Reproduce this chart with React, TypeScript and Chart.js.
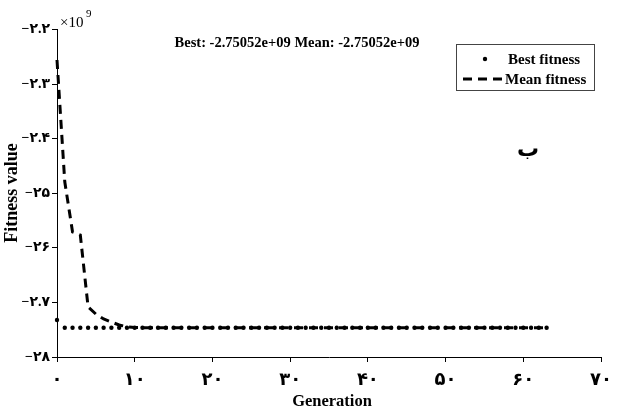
import React, { useEffect, useRef } from "react";
import { Chart, registerables } from "chart.js";

Chart.register(...registerables);

const generations = [
  0, 1, 2, 3, 4, 5, 6, 7, 8, 9, 10, 11, 12, 13, 14, 15, 16, 17, 18, 19, 20, 21, 22, 23, 24, 25, 26, 27, 28, 29, 30, 31,
  32, 33, 34, 35, 36, 37, 38, 39, 40, 41, 42, 43, 44, 45, 46, 47, 48, 49, 50, 51, 52, 53, 54, 55, 56, 57, 58, 59, 60,
  61, 62, 63,
];

const bestFitness = [
  -2.7323, -2.7463, -2.7463, -2.7463, -2.7463, -2.7463, -2.7463, -2.7463, -2.7463, -2.7463, -2.7463, -2.7463, -2.7463,
  -2.7463, -2.7463, -2.7463, -2.7463, -2.7463, -2.7463, -2.7463, -2.7463, -2.7463, -2.7463, -2.7463, -2.7463, -2.7463,
  -2.7463, -2.7463, -2.7463, -2.7463, -2.7463, -2.7463, -2.7463, -2.7463, -2.7463, -2.7463, -2.7463, -2.7463, -2.7463,
  -2.7463, -2.7463, -2.7463, -2.7463, -2.7463, -2.7463, -2.7463, -2.7463, -2.7463, -2.7463, -2.7463, -2.7463, -2.7463,
  -2.7463, -2.7463, -2.7463, -2.7463, -2.7463, -2.7463, -2.7463, -2.7463, -2.7463, -2.7463, -2.7463, -2.7463,
];

const meanFitness = [
  -2.2559, -2.479, -2.571, -2.5765, -2.7084, -2.7213, -2.7304, -2.7359, -2.7414, -2.7445, -2.746, -2.7462, -2.7463,
  -2.7463, -2.7463, -2.7463, -2.7463, -2.7463, -2.7463, -2.7463, -2.7463, -2.7463, -2.7463, -2.7463, -2.7463, -2.7463,
  -2.7463, -2.7463, -2.7463, -2.7463, -2.7463, -2.7463, -2.7463, -2.7463, -2.7463, -2.7463, -2.7463, -2.7463, -2.7463,
  -2.7463, -2.7463, -2.7463, -2.7463, -2.7463, -2.7463, -2.7463, -2.7463, -2.7463, -2.7463, -2.7463, -2.7463, -2.7463,
  -2.7463, -2.7463, -2.7463, -2.7463, -2.7463, -2.7463, -2.7463, -2.7463, -2.7463, -2.7463, -2.7463, -2.7463,
];

const xTickValues = [0, 10, 20, 30, 40, 50, 60, 70];
const xTickLabels = ["۰", "۱۰", "۲۰", "۳۰", "۴۰", "۵۰", "۶۰", "۷۰"];
const yTickValues = [-2.8, -2.7, -2.6, -2.5, -2.4, -2.3, -2.2];
const yTickLabels = ["−۲۸", "−۲.۷", "−۲۶", "−۲۵", "−۲.۴", "−۲.۳", "−۲.۲"];

const titleText = "Best: -2.75052e+09 Mean: -2.75052e+09";
const legendLabels = ["Best fitness", "Mean fitness"];
const xAxisTitle = "Generation";
const yAxisTitle = "Fitness value";
const panelLetter = "ب";

const SERIF = "'Liberation Serif', 'DejaVu Sans', serif";

const overlayPlugin = {
  id: "overlay",
  afterDraw(chart: any) {
    const ctx = chart.ctx as CanvasRenderingContext2D;
    ctx.save();
    ctx.fillStyle = "#000";
    // title
    ctx.font = `bold 14.5px ${SERIF}`;
    ctx.textAlign = "center";
    ctx.textBaseline = "middle";
    ctx.fillText(titleText, 297, 43);
    // exponent
    ctx.font = `15px ${SERIF}`;
    ctx.textAlign = "left";
    ctx.textBaseline = "alphabetic";
    ctx.fillText("×10", 60, 27);
    ctx.font = `11px ${SERIF}`;
    ctx.fillText("9", 86, 17);
    // axis titles
    ctx.font = `bold 16.5px ${SERIF}`;
    ctx.textAlign = "center";
    ctx.textBaseline = "middle";
    ctx.fillText(xAxisTitle, 332, 402);
    ctx.save();
    ctx.font = `bold 18px ${SERIF}`;
    ctx.translate(12, 193);
    ctx.rotate(-Math.PI / 2);
    ctx.fillText(yAxisTitle, 0, 0);
    ctx.restore();
    // panel letter
    ctx.font = `bold 22px ${SERIF}`;
    ctx.fillText(panelLetter, 528, 150);
    // legend box
    ctx.strokeStyle = "#444";
    ctx.lineWidth = 1;
    ctx.strokeRect(456.5, 44.5, 138, 46);
    ctx.font = `bold 15px ${SERIF}`;
    ctx.textAlign = "left";
    ctx.fillText(legendLabels[0], 508, 60);
    ctx.fillText(legendLabels[1], 505, 80);
    ctx.beginPath();
    ctx.arc(485, 59, 2.2, 0, Math.PI * 2);
    ctx.fill();
    ctx.strokeStyle = "#000";
    ctx.lineWidth = 3;
    ctx.setLineDash([9, 6]);
    ctx.beginPath();
    ctx.moveTo(463, 79);
    ctx.lineTo(505, 79);
    ctx.stroke();
    ctx.restore();
  },
};

export default function App() {
  const ref = useRef<HTMLCanvasElement | null>(null);
  useEffect(() => {
    document.body.style.margin = "0";
    const canvas = ref.current!;
    const chart = new Chart(canvas, {
      type: "line",
      data: {
        labels: generations,
        datasets: [
          {
            label: legendLabels[0],
            data: generations.map((g, i) => ({ x: g, y: bestFitness[i] })),
            showLine: false,
            pointRadius: 2.2,
            pointBackgroundColor: "#000",
            pointBorderWidth: 0,
            borderColor: "#000",
            clip: false,
          },
          {
            label: legendLabels[1],
            data: generations.map((g, i) => ({ x: g, y: meanFitness[i] })),
            borderColor: "#000",
            borderWidth: 3,
            borderDash: [9, 6],
            pointRadius: 0,
            tension: 0,
            fill: false,
            clip: false,
          },
        ],
      },
      options: {
        responsive: false,
        animation: false,
        devicePixelRatio: 1,
        layout: { padding: { top: 29.5, right: 14, left: 0, bottom: 0 } },
        plugins: { legend: { display: false }, title: { display: false }, tooltip: { enabled: false } },
        scales: {
          x: {
            type: "linear",
            min: 0,
            max: 70,
            afterFit: (s: any) => {
              s.height = 55;
            },
            afterBuildTicks: (s: any) => {
              s.ticks = xTickValues.map((v) => ({ value: v }));
            },
            ticks: {
              color: "#000",
              font: { family: SERIF, size: 18, weight: "bold" },
              padding: 8,
              maxRotation: 0,
              autoSkip: false,
              callback: (v: any) => xTickLabels[xTickValues.indexOf(Number(v))] ?? "",
            },
            grid: { display: true, drawOnChartArea: false, drawTicks: true, tickLength: 5, color: "#000" },
            border: { display: true, color: "#000", width: 1 },
          },
          y: {
            type: "linear",
            min: -2.8,
            max: -2.2,
            afterFit: (s: any) => {
              s.width = 57;
            },
            afterBuildTicks: (s: any) => {
              s.ticks = yTickValues.map((v) => ({ value: v }));
            },
            ticks: {
              color: "#000",
              font: { family: SERIF, size: 14, weight: "bold" },
              padding: 2,
              autoSkip: false,
              callback: (v: any) => {
                const idx = yTickValues.findIndex((t) => Math.abs(t - Number(v)) < 1e-6);
                return idx >= 0 ? yTickLabels[idx] : "";
              },
            },
            grid: { display: true, drawOnChartArea: false, drawTicks: true, tickLength: 5, color: "#000" },
            border: { display: true, color: "#000", width: 1 },
          },
        },
      },
      plugins: [overlayPlugin],
    } as any);
    return () => chart.destroy();
  }, []);
  return (
    <div style={{ width: 620, height: 412, background: "#fff" }}>
      <canvas ref={ref} width={620} height={412} style={{ display: "block", width: 620, height: 412 }} />
    </div>
  );
}
